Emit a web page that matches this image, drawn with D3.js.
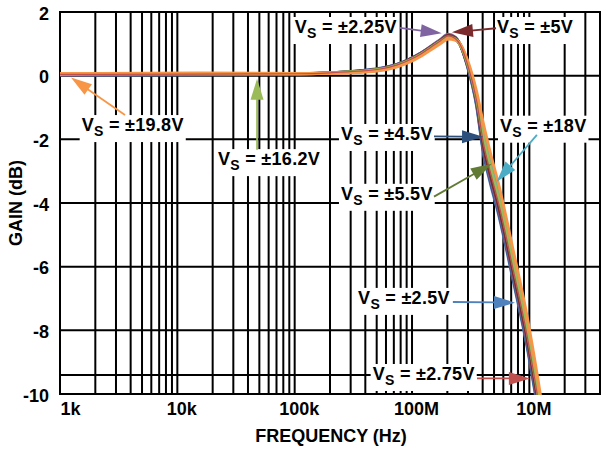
<!DOCTYPE html>
<html><head><meta charset="utf-8">
<script src="https://cdn.jsdelivr.net/npm/d3@7"></script>
<style>
body{margin:0;background:#fff}
svg{display:block}
text{font-family:"Liberation Sans",Arial,Helvetica,sans-serif;font-weight:bold;fill:#000}
</style>
</head><body>
<svg id="chart" width="602" height="450"></svg>
<script>
// ---------- DATA ----------
const freqHz = [1.0e3, 2.2e3, 1.5e4, 1.1e5, 2.0e5, 3.5e5, 5.35e5, 7.5e5, 9.6e5, 1.2e6, 1.43e6, 1.74e6,
                2.03e6, 2.33e6, 2.57e6, 2.93e6, 3.55e6, 4.05e6, 4.63e6, 5.54e6, 7.29e6, 9.49e6, 1.178e7, 1.3e7];

const gainVs2p5  = [0.02,0.02,0.03,0.04,0.09,0.15,0.23,0.36,0.53,0.72,0.90,1.12,1.28,1.20,0.98,0.36,-0.95,-2.42,-3.35,-4.45,-6.45,-8.45,-10.45,-11.4];
const gainVs4p5  = [0.03,0.03,0.04,0.05,0.09,0.15,0.22,0.35,0.52,0.71,0.89,1.11,1.27,1.19,0.98,0.38,-0.90,-2.35,-3.28,-4.38,-6.38,-8.38,-10.38,-11.35];
const gainVs2p25 = [0.03,0.03,0.04,0.05,0.09,0.14,0.22,0.35,0.52,0.72,0.91,1.13,1.30,1.21,0.98,0.40,-0.85,-2.28,-3.20,-4.30,-6.30,-8.30,-10.30,-11.3];
const gainVs5    = [0.03,0.04,0.05,0.05,0.09,0.14,0.21,0.34,0.51,0.70,0.89,1.10,1.27,1.19,0.98,0.42,-0.80,-2.20,-3.10,-4.20,-6.20,-8.20,-10.20,-11.2];
const gainVs18   = [0.05,0.06,0.06,0.06,0.08,0.12,0.18,0.31,0.46,0.65,0.83,1.03,1.18,1.13,0.99,0.50,-0.60,-1.70,-2.60,-3.70,-5.70,-7.70,-9.70,-10.7];
const gainVs5p5  = [0.04,0.05,0.05,0.06,0.09,0.13,0.20,0.33,0.49,0.68,0.87,1.08,1.23,1.16,0.98,0.45,-0.74,-2.00,-2.90,-4.00,-6.00,-8.00,-10.00,-11.0];
const gainVs16p2 = [0.04,0.05,0.06,0.06,0.09,0.13,0.20,0.33,0.49,0.68,0.86,1.07,1.21,1.15,0.98,0.46,-0.70,-1.92,-2.82,-3.92,-5.92,-7.92,-9.92,-10.9];
const gainVs19p8 = [0.07,0.07,0.08,0.07,0.07,0.10,0.16,0.28,0.43,0.62,0.80,1.00,1.15,1.12,1.00,0.55,-0.50,-1.50,-2.40,-3.50,-5.50,-7.50,-9.50,-10.5];
const gainVs2p75 = [0.04,0.04,0.05,0.06,0.09,0.14,0.21,0.34,0.50,0.69,0.88,1.09,1.25,1.17,0.98,0.43,-0.78,-2.10,-3.00,-4.10,-6.10,-8.10,-10.10,-11.1];

const seriesLabels = ["±2.5V","±4.5V","±2.25V","±5V","±18V","±5.5V","±16.2V","±19.8V","±2.75V"];
const seriesValues = [gainVs2p5, gainVs4p5, gainVs2p25, gainVs5, gainVs18, gainVs5p5, gainVs16p2, gainVs19p8, gainVs2p75];

const xTickValues = [1e3, 1e4, 1e5, 1e6, 1e7];
const xTickLabels = ["1k","10k","100k","100M","10M"];
const yTickValues = [-10,-8,-6,-4,-2,0,2];
const yTickLabels = ["-10","-8","-6","-4","-2","0","2"];
const yExtraGrid  = [-9.4];

// ---------- STYLE / LAYOUT ----------
const colors = {
  "±2.5V":"#4f81bd","±4.5V":"#2c4f7c","±2.25V":"#8064a2","±5V":"#7b2b2b",
  "±18V":"#4bacc6","±5.5V":"#617a34","±16.2V":"#9bbb59","±19.8V":"#f79646","±2.75V":"#c0504d"
};
const widths = {"±2.75V":1.2};

// annotations in data units: text anchor (f,g), arrow start (f,g), arrow tip (f,g)
const annotations = [
  {s:"±2.25V", t:[1.0e5, 1.34],  a:[7.9e5, 1.50],  p:[1.79e6, 1.33]},
  {s:"±5V",    t:[5.3e6, 1.34],  a:[5.2e6, 1.49],  p:[2.19e6, 1.36]},
  {s:"±19.8V", t:[1.53e3,-1.74], a:[3.58e3,-1.235],p:[1.24e3,-0.06]},
  {s:"±16.2V", t:[2.22e4,-2.81], a:[4.78e4,-2.33], p:[4.78e4,-0.10]},
  {s:"±4.5V",  t:[2.48e5,-2.02], a:[1.54e6,-1.91], p:[4.03e6,-1.92]},
  {s:"±18V",   t:[5.62e6,-1.76], a:[1.16e7,-1.86], p:[5.27e6,-3.33]},
  {s:"±5.5V",  t:[2.48e5,-3.90], a:[1.54e6,-3.80], p:[4.78e6,-2.77]},
  {s:"±2.5V",  t:[3.47e5,-7.17], a:[2.23e6,-7.11], p:[7.55e6,-7.13]},
  {s:"±2.75V", t:[4.62e5,-9.56], a:[3.58e6,-9.51], p:[1.01e7,-9.51]}
];

const svg = d3.select("#chart");
const L=60, R=600, T=12, B=394;
const x = d3.scaleLog().domain([1e3, 4e7]).range([L, R]);
const y = d3.scaleLinear().domain([-10, 2]).range([B, T]);

// grid
const minor = [];
for (let k=3;k<=7;k++) for (let n=1;n<=9;n++){const v=n*Math.pow(10,k); if (v>=1e3 && v<=4e7) minor.push(v);}
const grid = svg.append("g");
grid.selectAll("line.v").data(minor).join("line")
  .attr("x1",d=>x(d)).attr("x2",d=>x(d)).attr("y1",T).attr("y2",B)
  .attr("stroke","#000").attr("stroke-width",2);
grid.selectAll("line.h").data(yTickValues.concat(yExtraGrid)).join("line")
  .attr("x1",L).attr("x2",R).attr("y1",d=>y(d)).attr("y2",d=>y(d))
  .attr("stroke","#000").attr("stroke-width",2);
svg.append("rect").attr("x",L).attr("y",T).attr("width",R-L).attr("height",B-T)
  .attr("fill","none").attr("stroke","#000").attr("stroke-width",2);

// axes
const xa = svg.append("g").attr("transform",`translate(0,${B})`)
  .call(d3.axisBottom(x).tickValues(xTickValues).tickFormat((d,i)=>xTickLabels[i]).tickSize(0).tickPadding(8));
xa.select(".domain").remove();
xa.selectAll("text").attr("font-size",18).attr("font-family",null).attr("dx",(d,i)=>i===0?0:4)
  .attr("text-anchor",(d,i)=>i===0?"start":"middle");
const ya = svg.append("g").attr("transform",`translate(${L},0)`)
  .call(d3.axisLeft(y).tickValues(yTickValues).tickFormat((d,i)=>yTickLabels[i]).tickSize(0).tickPadding(11));
ya.select(".domain").remove();
ya.selectAll("text").attr("font-size",18).attr("font-family",null).attr("dy","0.4em");

svg.append("text").attr("x",(L+R)/2+1).attr("y",442).attr("text-anchor","middle")
  .attr("font-size",18).text("FREQUENCY (Hz)");
svg.append("text").attr("transform",`translate(22,${(T+B)/2}) rotate(-90)`).attr("text-anchor","middle")
  .attr("font-size",18).text("GAIN (dB)");

// curves
svg.append("clipPath").attr("id","clip").append("rect").attr("x",L).attr("y",T-4).attr("width",R-L).attr("height",B-T+5);
const line = d3.line().x(d=>x(d[0])).y(d=>y(d[1])).curve(d3.curveMonotoneX);
const cg = svg.append("g").attr("clip-path","url(#clip)");
seriesLabels.forEach((s,i)=>{
  const pts = freqHz.map((f,j)=>[f, seriesValues[i][j]]);
  cg.append("path").attr("d",line(pts)).attr("fill","none")
    .attr("stroke",colors[s]).attr("stroke-width",widths[s]||3).attr("stroke-linejoin","round");
});

// annotations
const ag = svg.append("g");
annotations.forEach(a=>{
  const g = ag.append("g");
  const t = g.append("text").attr("x",x(a.t[0])).attr("y",y(a.t[1])).attr("font-size",18).attr("letter-spacing",0.3);
  t.append("tspan").text("V");
  t.append("tspan").attr("font-size",14).attr("dy",5).text("S");
  t.append("tspan").attr("dy",-5).text(" = " + a.s);
  const bb = t.node().getBBox();
  g.insert("rect","text").attr("x",bb.x-2).attr("y",bb.y).attr("width",bb.width+4).attr("height",bb.height+3).attr("fill","#fff");
  const x0=x(a.a[0]), y0=y(a.a[1]), x1=x(a.p[0]), y1=y(a.p[1]);
  const dx=x1-x0, dy=y1-y0, len=Math.hypot(dx,dy), ux=dx/len, uy=dy/len;
  const hl=21, hw=6.5;
  const bx=x1-ux*hl, by=y1-uy*hl;
  g.append("line").attr("x1",x0).attr("y1",y0).attr("x2",bx+ux*2).attr("y2",by+uy*2)
    .attr("stroke",colors[a.s]).attr("stroke-width",1.8);
  g.append("path").attr("d",`M${x1},${y1}L${bx-uy*hw},${by+ux*hw}L${bx+uy*hw},${by-ux*hw}Z`)
    .attr("fill",colors[a.s]);
});
</script>
</body></html>
